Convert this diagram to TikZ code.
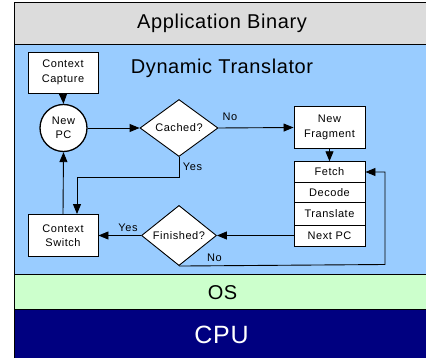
\documentclass[tikz,border=0pt]{standalone}
\usepackage{fontspec}
\setmainfont{Liberation Sans}
\newfontfamily\smallfam[LetterSpace=5]{Liberation Sans}
\newfontfamily\bigfam[LetterSpace=3]{Liberation Sans}
\usetikzlibrary{arrows.meta,shapes.geometric}
\definecolor{bandgray}{RGB}{220,220,220}
\definecolor{bandblue}{RGB}{153,204,255}
\definecolor{bandgreen}{RGB}{204,255,204}
\definecolor{bandnavy}{RGB}{0,0,128}
\tikzset{
  bigtext/.style={font=\bigfam\fontsize{20}{24}\selectfont, inner sep=0pt},
  smalltext/.style={font=\smallfam\fontsize{11}{14.5}\selectfont, align=center},
  box/.style={draw=black, fill=white, line width=0.9pt, smalltext, inner sep=0pt},
  stackbox/.style={box, minimum width=71pt},
  decision/.style={draw=black, fill=white, line width=0.9pt, shape=diamond, smalltext, inner sep=0pt},
  flow/.style={draw=black, line width=0.9pt, -{Triangle[length=10pt,width=8pt]}},
  lbl/.style={smalltext, inner sep=0pt}
}
\begin{document}
\begin{tikzpicture}[x=1pt,y=-1pt]
\useasboundingbox (0,0) rectangle (426,358);
% bands
\fill[bandgray] (14,2) rectangle (426,44);
\fill[bandblue] (14,44) rectangle (426,274);
\fill[bandgreen] (14,274) rectangle (426,309);
\fill[bandnavy] (14,309) rectangle (426,358);
\draw[black, line width=0.9pt] (426,2) -- (14,2) -- (14,358);
\draw[black, line width=0.9pt] (14,44) -- (426,44);
\draw[black, line width=0.9pt] (14,274) -- (426,274);
\draw[black, line width=0.9pt] (14,309) -- (426,309);
% band labels
\node[bigtext] (app) at (222,23) {Application Binary};
\node[bigtext] (dt) at (222,68) {Dynamic Translator};
\node[bigtext] (os) at (222.5,293) {OS};
\node[bigtext, text=white, font=\bigfam\fontsize{25}{28}\selectfont] (cpu) at (221.5,334.5) {CPU};
% nodes
\node[box, minimum width=70pt, minimum height=41pt] (cc) at (63,72.5) {Context\\Capture};
\node[box, shape=circle, minimum size=47pt, line width=1.3pt] (pc) at (63.5,128) {New\\PC};
\node[decision, minimum width=78pt, minimum height=57pt] (cached) at (179,128) {Cached?};
\node[box, minimum width=71pt, minimum height=41.5pt] (nf) at (329.5,127.5) {New\\Fragment};
\node[stackbox, minimum height=20.5pt] (fetch) at (329.5,172) {Fetch};
\node[stackbox, minimum height=20.5pt] (decode) at (329.5,192.5) {Decode};
\node[stackbox, minimum height=22.5pt] (translate) at (329.5,214) {Translate};
\node[stackbox, minimum height=21.5pt] (nextpc) at (329.5,236) {Next PC};
\node[decision, minimum width=75pt, minimum height=58pt] (fin) at (179,235.5) {Finished?};
\node[box, minimum width=70pt, minimum height=42pt] (cs) at (63,235.5) {Context\\Switch};
% helper coordinates
\coordinate (yesbend) at (77,177);
\coordinate (loopcorner) at (385,264.5);
% connectors
\draw[flow] (cc.south) -- (pc.north);
\draw[flow] (pc.east) -- (cached.west);
\draw[flow] (cached.east) -- (nf.west);
\draw[flow] (nf.south) -- (fetch.north);
\draw[flow] (cached.south) |- (yesbend) -- (yesbend |- cs.north);
\draw[flow] (nextpc.west |- fin.east) -- (fin.east);
\draw[flow] (fin.west) -- (cs.east);
\draw[flow] (cs.north) -- (pc.south);
\draw[flow] (fin.south) -- (loopcorner) |- (fetch.east);
% labels
\node[lbl] (lno1) at (230,117) {No};
\node[lbl] (lyes1) at (192.5,167) {Yes};
\node[lbl] (lyes2) at (128,228) {Yes};
\node[lbl] (lno2) at (214.5,258) {No};
\end{tikzpicture}
\end{document}
